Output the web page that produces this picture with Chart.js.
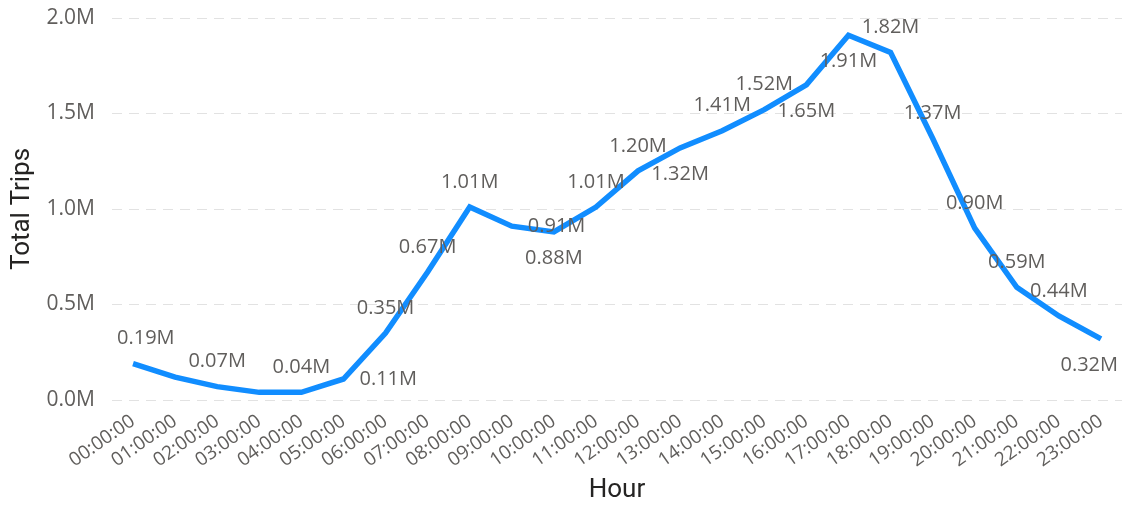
<!DOCTYPE html>
<html>
<head>
<meta charset="utf-8">
<script src="https://cdn.jsdelivr.net/npm/chart.js@4"></script>
<style>
  html, body { margin: 0; padding: 0; background: #fff; }
  #wrap { width: 1122px; height: 509px; position: relative; }
</style>
</head>
<body>
<div id="wrap"><canvas id="trips"></canvas></div>
<script>
// trips per hour of day
const hours = ['00:00:00','01:00:00','02:00:00','03:00:00','04:00:00','05:00:00','06:00:00','07:00:00',
  '08:00:00','09:00:00','10:00:00','11:00:00','12:00:00','13:00:00','14:00:00','15:00:00',
  '16:00:00','17:00:00','18:00:00','19:00:00','20:00:00','21:00:00','22:00:00','23:00:00'];
const totalTrips = [190000, 120000, 70000, 40000, 40000, 110000, 350000, 670000,
  1010000, 910000, 880000, 1010000, 1200000, 1320000, 1410000, 1520000,
  1650000, 1910000, 1820000, 1370000, 900000, 590000, 440000, 320000];
const yTicks = [0, 500000, 1000000, 1500000, 2000000];

// where each value label goes ('' = hidden)
const labelPlace = ['above','','above','','above','right','above','above',
  'above','right','below','above','above','below','above','above',
  'below','below','above','above','above','above','above','below'];

const fmtM = (v, d) => (v / 1e6).toFixed(d) + 'M';
const uiFont = '"Segoe UI", "Open Sans", sans-serif';
const labelFont = '20px ' + uiFont;

const valueLabels = {
  id: 'valueLabels',
  afterDatasetsDraw(chart) {
    const ctx = chart.ctx;
    const area = chart.chartArea;
    const pts = chart.getDatasetMeta(0).data;
    ctx.save();
    ctx.font = labelFont;
    ctx.fillStyle = '#605E5C';
    ctx.textBaseline = 'middle';
    ctx.textAlign = 'left';
    pts.forEach((p, i) => {
      const where = labelPlace[i];
      if (!where) return;
      const txt = fmtM(totalTrips[i], 2);
      const w = ctx.measureText(txt).width;
      let left, y;
      if (where === 'right') {
        left = p.x + 16;
        y = p.y;
      } else {
        left = p.x - w / 2;
        y = where === 'above' ? p.y - 25 : p.y + 26;
      }
      left = Math.max(area.left + 5, Math.min(left, area.right - 4 - w));
      ctx.fillText(txt, left, y);
    });
    ctx.restore();
  }
};

new Chart(document.getElementById('trips'), {
  type: 'line',
  data: {
    labels: hours,
    datasets: [{
      data: totalTrips,
      borderColor: '#118DFF',
      borderWidth: 5.5,
      pointRadius: 0,
      tension: 0,
      fill: false,
      borderJoinStyle: 'miter'
    }]
  },
  options: {
    responsive: true,
    maintainAspectRatio: false,
    animation: false,
    layout: { padding: { top: 18, right: 0, left: 0, bottom: 0 } },
    plugins: { legend: { display: false }, tooltip: { enabled: false } },
    scales: {
      x: {
        offset: true,
        grid: { display: false },
        border: { display: false },
        ticks: {
          autoSkip: false,
          minRotation: 35,
          maxRotation: 35,
          padding: 2,
          color: '#605E5C',
          font: { family: uiFont, size: 19 }
        },
        title: {
          display: true,
          text: 'Hour',
          color: '#252423',
          padding: { top: 0, bottom: 3 },
          font: { family: 'Roboto, sans-serif', size: 26, weight: '400' }
        },
        afterFit(scale) { scale.height = 109; }
      },
      y: {
        min: 0,
        max: 2000000,
        afterBuildTicks(scale) { scale.ticks = yTicks.map(v => ({ value: v })); },
        grid: { color: '#E2E2E2', lineWidth: 1, drawTicks: false },
        border: { display: false, dash: [10, 7] },
        ticks: {
          padding: 17,
          color: '#605E5C',
          font: { family: uiFont, size: 21 },
          callback: v => fmtM(v, 1)
        },
        title: {
          display: true,
          text: 'Total Trips',
          color: '#252423',
          padding: { top: 7, bottom: 0 },
          font: { family: 'Roboto, sans-serif', size: 26, weight: '400' }
        },
        afterFit(scale) {
          scale.width = 112;
          scale.paddingTop = 0;
          scale.paddingBottom = 0;
        }
      }
    }
  },
  plugins: [valueLabels]
});
</script>
</body>
</html>
